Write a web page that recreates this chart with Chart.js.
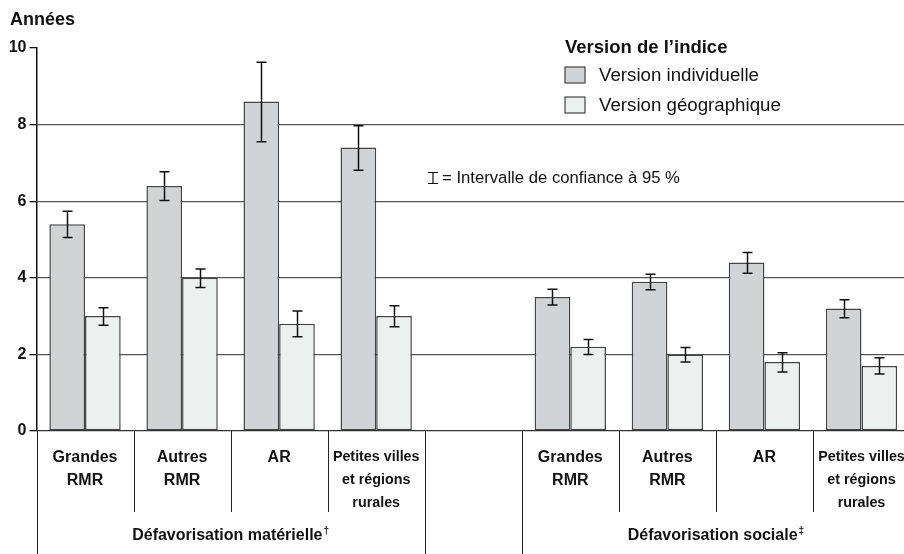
<!DOCTYPE html>
<html>
<head>
<meta charset="utf-8">
<script src="https://cdn.jsdelivr.net/npm/chart.js@4.4.1/dist/chart.umd.min.js"></script>
<style>
    html, body { margin: 0; padding: 0; background: #fff; overflow: hidden; }
    #chart { display: block; }
</style>
</head>
<body>
<canvas id="chart" width="910" height="554"></canvas>
<script>
// Categories (tick labels, multi-line) - index 4 is the empty gap
const categoryLabels = [
    ['Grandes', 'RMR'], ['Autres', 'RMR'], ['AR'], ['Petites villes', 'et régions', 'rurales'],
    [''],
    ['Grandes', 'RMR'], ['Autres', 'RMR'], ['AR'], ['Petites villes', 'et régions', 'rurales']
];
const groupLabels = ['Défavorisation matérielle', 'Défavorisation sociale'];
const groupMarks = ['†', '‡'];
const groupRanges = [[0, 3], [5, 8]];
const seriesLabels = ['Version individuelle', 'Version géographique'];

// Values (years)
const individual = [5.4, 6.4, 8.6, 7.4, null, 3.5, 3.9, 4.4, 3.2];
const geographic = [3.0, 4.0, 2.8, 3.0, null, 2.2, 2.0, 1.8, 1.7];

// 95 % confidence intervals
const individualLow  = [5.05, 6.02, 7.55, 6.81, null, 3.29, 3.69, 4.12, 2.96];
const individualHigh = [5.74, 6.77, 9.63, 7.97, null, 3.70, 4.09, 4.66, 3.43];
const geographicLow  = [2.76, 3.75, 2.46, 2.72, null, 2.00, 1.80, 1.54, 1.49];
const geographicHigh = [3.22, 4.23, 3.13, 3.27, null, 2.39, 2.18, 2.04, 1.91];

const yTicks = [0, 2, 4, 6, 8, 10];

const FONT = "'Liberation Sans', Arial, sans-serif";
const colors = { individual: '#d2d3d5', geographic: '#eef0ef', border: '#454545', grid: '#555555' };

// Error bars drawn on top of the bars
const errorBars = {
    id: 'errorBars',
    afterDatasetsDraw(chart) {
        const { ctx, scales: { y } } = chart;
        const ranges = [[individualLow, individualHigh], [geographicLow, geographicHigh]];
        ctx.save();
        ctx.strokeStyle = '#111';
        ctx.lineWidth = 1.5;
        ranges.forEach(([low, high], di) => {
            chart.getDatasetMeta(di).data.forEach((bar, i) => {
                if (low[i] === null) return;
                const x = Math.round(bar.x) + 0.5;
                const y1 = y.getPixelForValue(high[i]);
                const y2 = y.getPixelForValue(low[i]);
                ctx.beginPath();
                ctx.moveTo(x, y1); ctx.lineTo(x, y2);
                ctx.moveTo(x - 5, y1); ctx.lineTo(x + 5, y1);
                ctx.moveTo(x - 5, y2); ctx.lineTo(x + 5, y2);
                ctx.stroke();
            });
        });
        ctx.restore();
    }
};

// Separators under the axis, group labels, title, legend and note
const decorations = {
    id: 'decorations',
    afterDraw(chart) {
        const { ctx, chartArea, scales: { x } } = chart;
        const base = chartArea.bottom;
        const half = (x.getPixelForValue(1) - x.getPixelForValue(0)) / 2;
        ctx.save();

        // vertical separators
        ctx.strokeStyle = '#222';
        ctx.lineWidth = 1;
        for (let i = 0; i <= categoryLabels.length; i++) {
            const bx = Math.round(x.getPixelForValue(i) - half) + 0.5;
            const isEdge = groupRanges.some(([a, b]) => i === a || i === b + 1);
            ctx.beginPath();
            ctx.moveTo(bx, base);
            ctx.lineTo(bx, isEdge ? chart.height : base + 81);
            ctx.stroke();
        }

        // group labels with small superscript marks
        ctx.fillStyle = '#111';
        ctx.textBaseline = 'middle';
        ctx.textAlign = 'left';
        groupRanges.forEach(([a, b], gi) => {
            const cx = (x.getPixelForValue(a) + x.getPixelForValue(b)) / 2;
            ctx.font = `bold 16px ${FONT}`;
            const w = ctx.measureText(groupLabels[gi]).width;
            ctx.font = `bold 10px ${FONT}`;
            const sw = ctx.measureText(groupMarks[gi]).width;
            const left = cx - (w + sw + 1) / 2;
            ctx.fillText(groupMarks[gi], left + w + 1, base + 100);
            ctx.font = `bold 16px ${FONT}`;
            ctx.fillText(groupLabels[gi], left, base + 105);
        });

        // axis title
        ctx.font = `bold 18px ${FONT}`;
        ctx.fillText('Années', 10, 20);

        // legend
        ctx.font = `bold 18.5px ${FONT}`;
        ctx.fillText('Version de l\u2019indice', 565, 48);
        ctx.font = `18.7px ${FONT}`;
        chart.data.datasets.forEach((ds, i) => {
            const cy = 75 + i * 30;
            ctx.fillStyle = ds.backgroundColor;
            ctx.fillRect(565, cy - 8, 20, 16);
            ctx.strokeStyle = '#444';
            ctx.lineWidth = 1.2;
            ctx.strokeRect(565, cy - 8, 20, 16);
            ctx.fillStyle = '#111';
            ctx.fillText(ds.label, 599, cy + 1);
        });

        // confidence interval note
        ctx.strokeStyle = '#111';
        ctx.lineWidth = 1.2;
        ctx.beginPath();
        ctx.moveTo(428, 172.5); ctx.lineTo(438, 172.5);
        ctx.moveTo(428, 183.5); ctx.lineTo(438, 183.5);
        ctx.moveTo(433, 172.5); ctx.lineTo(433, 183.5);
        ctx.stroke();
        ctx.font = `16.7px ${FONT}`;
        ctx.fillText('= Intervalle de confiance à 95 %', 442, 178);

        ctx.restore();
    }
};

new Chart(document.getElementById('chart'), {
    type: 'bar',
    data: {
        labels: categoryLabels,
        datasets: [
            {
                label: seriesLabels[0],
                data: individual,
                backgroundColor: colors.individual,
                borderColor: colors.border,
                borderWidth: 1.5,
                borderSkipped: false
            },
            {
                label: seriesLabels[1],
                data: geographic,
                backgroundColor: colors.geographic,
                borderColor: colors.border,
                borderWidth: 1.5,
                borderSkipped: false
            }
        ]
    },
    options: {
        responsive: false,
        animation: false,
        devicePixelRatio: 1,
        layout: { padding: { top: 48, right: 0, left: 0, bottom: 0 } },
        datasets: { bar: { categoryPercentage: 0.735, barPercentage: 1 } },
        plugins: {
            legend: { display: false },
            tooltip: { enabled: false }
        },
        scales: {
            x: {
                afterFit(scale) {
                    scale.height = 123;
                    scale.paddingLeft = 0;
                    scale.paddingRight = 0;
                },
                grid: { display: false, drawTicks: false },
                border: { display: true, color: '#333', width: 1.3 },
                ticks: {
                    padding: 15,
                    maxRotation: 0,
                    autoSkip: false,
                    color: '#111',
                    font: ctx => ({
                        family: FONT,
                        size: ctx.index === 3 || ctx.index === 8 ? 14.3 : 16,
                        weight: 'bold',
                        lineHeight: ctx.index === 3 || ctx.index === 8 ? 1.6 : 1.45
                    })
                }
            },
            y: {
                min: 0,
                max: 10,
                afterFit(scale) { scale.width = 36.5; },
                afterBuildTicks(scale) { scale.ticks = yTicks.map(v => ({ value: v })); },
                border: { display: true, color: '#111', width: 1.5 },
                grid: {
                    color: ctx => (ctx.tick && (ctx.tick.value === 10 || ctx.tick.value === 0)) ? 'rgba(0,0,0,0)' : colors.grid,
                    lineWidth: 1.3,
                    tickColor: '#111',
                    tickLength: 7
                },
                ticks: {
                    padding: 3,
                    color: '#111',
                    font: { family: FONT, size: 16, weight: 'bold' }
                }
            }
        }
    },
    plugins: [errorBars, decorations]
});
</script>
</body>
</html>
